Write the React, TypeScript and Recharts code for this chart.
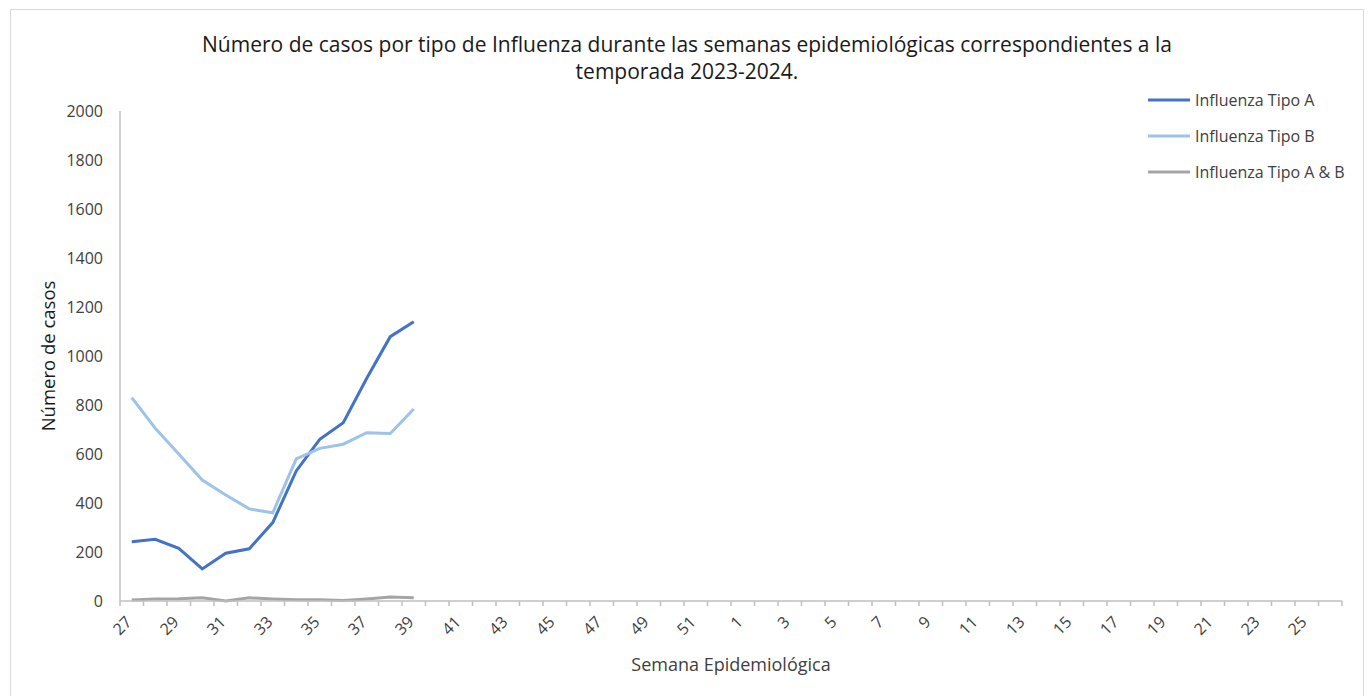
import React from 'react';
import { LineChart, Line, XAxis, YAxis, Legend } from 'recharts';

const weeks = [
  27, 28, 29, 30, 31, 32, 33, 34, 35, 36, 37, 38, 39, 40, 41, 42, 43, 44, 45, 46, 47, 48, 49, 50, 51, 52,
  1, 2, 3, 4, 5, 6, 7, 8, 9, 10, 11, 12, 13, 14, 15, 16, 17, 18, 19, 20, 21, 22, 23, 24, 25, 26,
];
const tipoA = [242, 252, 215, 131, 195, 213, 320, 531, 660, 728, 909, 1079, 1140];
const tipoB = [830, 705, 600, 494, 433, 376, 360, 580, 623, 640, 687, 684, 784];
const tipoAB = [4, 8, 9, 13, 0, 13, 8, 5, 5, 2, 8, 16, 13];
const yTicks = [0, 200, 400, 600, 800, 1000, 1200, 1400, 1600, 1800, 2000];

const series = [
  { key: 'a', name: 'Influenza Tipo A', color: '#4472C4' },
  { key: 'b', name: 'Influenza Tipo B', color: '#9DC3E6' },
  { key: 'ab', name: 'Influenza Tipo A & B', color: '#A5A5A5' },
];

const data = weeks.map((w, i) => ({
  i,
  week: w,
  a: tipoA[i] ?? null,
  b: tipoB[i] ?? null,
  ab: tipoAB[i] ?? null,
}));

// ticks at every half step: marks between categories, labels on every other category
const xTicks: number[] = [];
for (let k = 0; k <= weeks.length * 2; k++) xTicks.push(k / 2 - 0.5);

const font = '"Open Sans", sans-serif';
const axisColor = '#BFBFBF';
const textColor = '#404040';

const WeekTick = ({ x, y, payload }: any) => {
  const v = payload.value;
  if (!Number.isInteger(v)) {
    return <line x1={x} y1={y} x2={x} y2={y + 5} stroke={axisColor} strokeWidth={1.5} />;
  }
  if (v % 2 !== 0) return null;
  return (
    <g transform={`translate(${x + 1},${y + 22})`}>
      <text textAnchor="end" transform="rotate(-45)" fontSize={16} fill={textColor} fontFamily={font}>
        {weeks[v]}
      </text>
    </g>
  );
};

const renderLegend = () => (
  <div style={{ fontFamily: font, fontSize: 16, color: textColor }}>
    {series.map((s) => (
      <div key={s.key} style={{ display: 'flex', alignItems: 'center', height: 36 }}>
        <svg width={42} height={4}>
          <line x1={0} y1={2} x2={42} y2={2} stroke={s.color} strokeWidth={3} />
        </svg>
        <span style={{ marginLeft: 5 }}>{s.name}</span>
      </div>
    ))}
  </div>
);

export default function App() {
  return (
    <div
      style={{
        position: 'absolute',
        left: 10,
        top: 9,
        width: 1352,
        height: 690,
        border: '1px solid #D9D9D9',
        background: '#fff',
        fontFamily: font,
      }}
    >
      <div
        style={{
          position: 'absolute',
          left: 0,
          right: 0,
          top: 21,
          textAlign: 'center',
          fontSize: 21,
          lineHeight: '27px',
          color: '#1a1a1a',
        }}
      >
        Número de casos por tipo de Influenza durante las semanas epidemiológicas correspondientes a la
        <br />
        temporada 2023-2024.
      </div>
      <LineChart width={1352} height={686} data={data} margin={{ top: 101, right: 21, bottom: 0, left: 20 }}>
        <XAxis
          dataKey="i"
          type="number"
          domain={[-0.5, weeks.length - 0.5]}
          ticks={xTicks}
          interval={0}
          tick={<WeekTick />}
          tickSize={0}
          tickMargin={0}
          tickLine={false}
          axisLine={{ stroke: axisColor, strokeWidth: 1.5 }}
          height={95}
          label={{
            value: 'Semana Epidemiológica',
            position: 'insideBottom',
            offset: 25,
            fill: textColor,
            fontSize: 18,
            fontFamily: font,
          }}
        />
        <YAxis
          domain={[0, 2000]}
          ticks={yTicks}
          interval={0}
          width={89}
          tickLine={false}
          tickSize={6}
          tickMargin={11}
          axisLine={{ stroke: axisColor, strokeWidth: 1.5 }}
          tick={{ fill: textColor, fontSize: 16, fontFamily: font }}
          label={{
            value: 'Número de casos',
            angle: -90,
            position: 'insideLeft',
            offset: 17,
            fill: '#1a1a1a',
            fontSize: 18.5,
            fontFamily: font,
            style: { textAnchor: 'middle' },
          }}
        />
        <Legend
          content={renderLegend}
          layout="vertical"
          verticalAlign="middle"
          align="center"
          wrapperStyle={{ left: 1137, top: 72, width: 220, right: 'auto', bottom: 'auto' }}
        />
        {series.map((s) => (
          <Line
            key={s.key}
            dataKey={s.key}
            name={s.name}
            stroke={s.color}
            strokeWidth={3}
            dot={false}
            type="linear"
            isAnimationActive={false}
          />
        ))}
      </LineChart>
    </div>
  );
}
